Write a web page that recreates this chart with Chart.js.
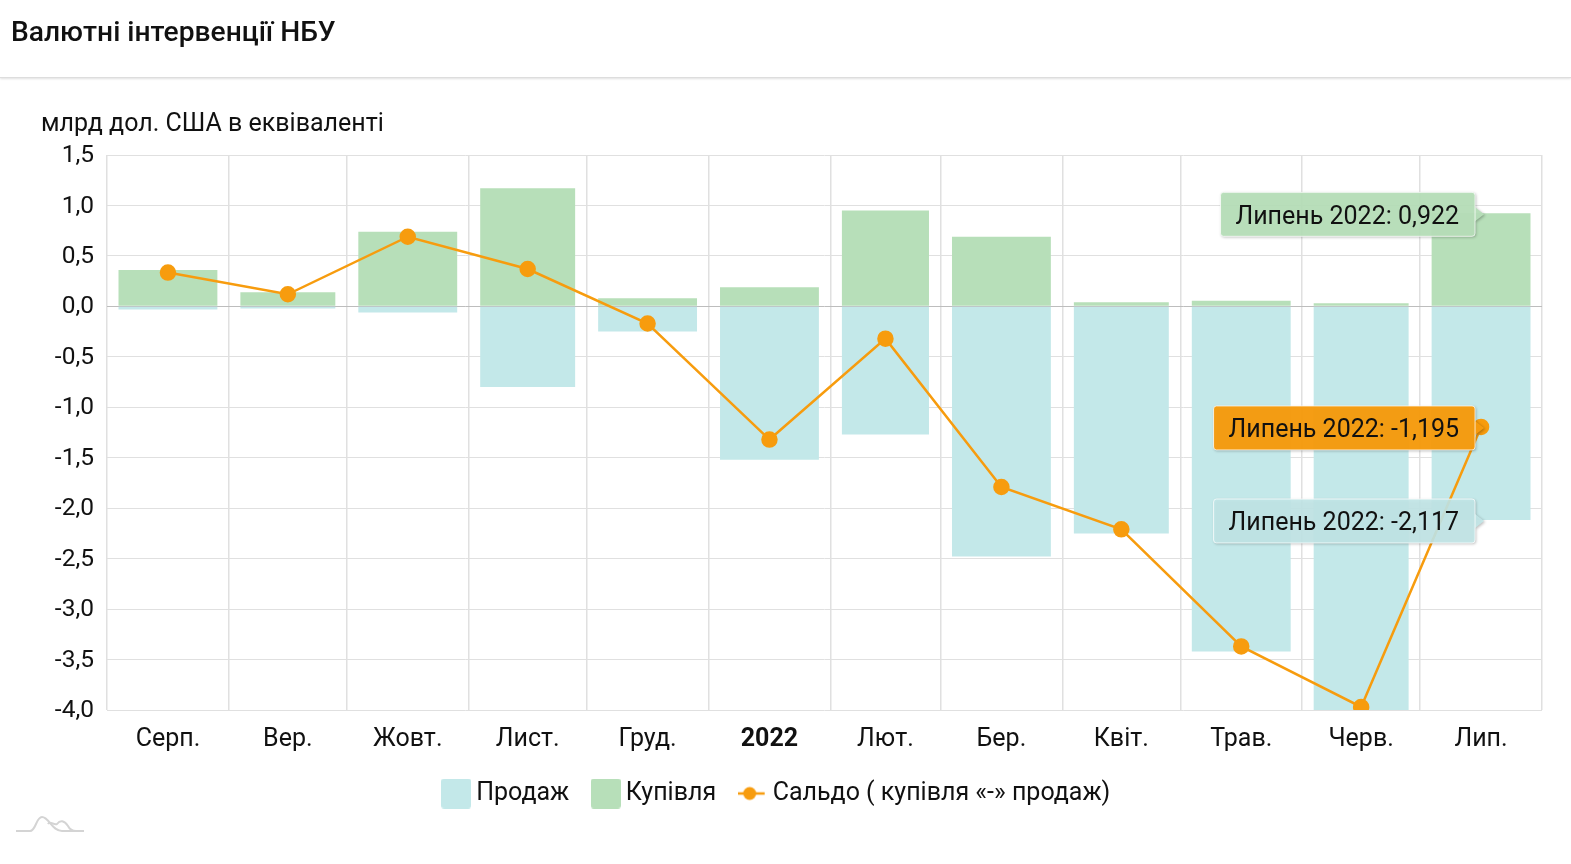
<!DOCTYPE html>
<html lang="uk">
<head>
<meta charset="utf-8">
<title>Валютні інтервенції НБУ</title>
<script src="https://cdn.jsdelivr.net/npm/chart.js@4"></script>
<style>
  html, body { margin: 0; padding: 0; width: 1571px; height: 864px; overflow: hidden; background: #fff; font-family: Roboto, sans-serif; color: #111; }
  #header { position: absolute; left: 0; top: 0; width: 100%; height: 77px; border-bottom: 1px solid #ddd; box-shadow: 0 1px 2px rgba(0,0,0,.12); }
  #header h1 { margin: 0; position: absolute; left: 11px; top: 16px; font-size: 28.2px; line-height: 32px; font-weight: 500; }
  #unit { position: absolute; left: 41px; top: 108px; font-size: 25px; line-height: 30px; }
  #chart { position: absolute; left: 0; top: 0; }
  #logo { position: absolute; left: 16px; top: 812px; }
</style>
</head>
<body>
<canvas id="chart" width="1571" height="864"></canvas>
<div id="header"><h1>Валютні інтервенції НБУ</h1></div>
<div id="unit">млрд дол. США в еквіваленті</div>
<svg id="logo" width="70" height="22" viewBox="0 0 70 22" fill="none" stroke="#d4d4d4" stroke-width="2">
  <path d="M0 19 H14 C20 19 20 5 26 5 C33 5 36 19 46 19 H68"/>
  <path d="M32 12 C34 8 38 14 41 12 C44 8 48 8 52 14 C54 18 56 19 60 19"/>
</svg>

<script>
const monthLabels = ['Серп.', 'Вер.', 'Жовт.', 'Лист.', 'Груд.', '2022', 'Лют.', 'Бер.', 'Квіт.', 'Трав.', 'Черв.', 'Лип.'];
const monthDays = [31, 30, 31, 30, 31, 31, 28, 31, 30, 31, 30, 31];
const salesValues = [-0.03, -0.02, -0.06, -0.80, -0.25, -1.52, -1.27, -2.48, -2.25, -3.42, -4.00, -2.117];
const purchaseValues = [0.36, 0.14, 0.74, 1.17, 0.08, 0.19, 0.95, 0.69, 0.04, 0.055, 0.03, 0.922];
const balanceValues = [0.335, 0.12, 0.69, 0.37, -0.17, -1.32, -0.32, -1.79, -2.21, -3.37, -3.97, -1.195];
const yTicks = [1.5, 1, 0.5, 0, -0.5, -1, -1.5, -2, -2.5, -3, -3.5, -4];

const COLOR_SALE = '#c3e8e9';
const COLOR_BUY = '#b7dfb9';
const COLOR_LINE = '#f79c0e';
const COLOR_GRID = '#e0e0e0';
const FONT = 'Roboto, sans-serif';

// month edges and middles, counted in days from the start of the axis
const monthEdges = [0];
monthDays.forEach(d => monthEdges.push(monthEdges[monthEdges.length - 1] + d));
const monthMids = monthDays.map((d, i) => monthEdges[i] + d / 2);

const fmt = v => String(v).replace('.', ',');
const toPoints = values => values.map((y, i) => ({ x: monthMids[i], y }));

function swatch(color) {
  const c = document.createElement('canvas');
  c.width = 30; c.height = 30;
  const g = c.getContext('2d');
  g.fillStyle = color;
  g.beginPath();
  g.roundRect(0, 0, 30, 30, 3);
  g.fill();
  return c;
}

function lineMarker(color) {
  const c = document.createElement('canvas');
  c.width = 30; c.height = 30;
  const g = c.getContext('2d');
  g.strokeStyle = color;
  g.fillStyle = color;
  g.lineWidth = 2.5;
  g.beginPath();
  g.moveTo(0, 15); g.lineTo(27, 15);
  g.stroke();
  g.beginPath();
  g.arc(12, 15, 6.5, 0, Math.PI * 2);
  g.fill();
  return c;
}

// bars follow the real month length, so each one gets its own width
const monthBars = {
  id: 'monthBars',
  afterDatasetsUpdate(chart) {
    const x = chart.scales.x;
    chart.getSortedVisibleDatasetMetas().forEach(meta => {
      if (meta.type !== 'bar') return;
      meta.data.forEach((bar, i) => {
        bar.width = x.getPixelForValue(monthEdges[i + 1]) - x.getPixelForValue(monthEdges[i]) - 23;
      });
    });
  }
};

// the three pinned labels for the last month
const pinnedLabels = {
  id: 'pinnedLabels',
  afterDatasetsDraw(chart) {
    const ctx = chart.ctx;
    const last = monthLabels.length - 1;
    const tipX = chart.scales.x.getPixelForValue(monthMids[last]) + 3;
    const items = [
      { value: purchaseValues[last], fill: 'rgba(183,223,185,.95)' },
      { value: balanceValues[last], fill: 'rgba(247,156,14,.97)' },
      { value: salesValues[last], fill: 'rgba(195,232,233,.9)' }
    ];
    ctx.save();
    ctx.font = '25px ' + FONT;
    items.forEach(item => {
      const text = 'Липень 2022: ' + fmt(item.value);
      const w = ctx.measureText(text).width + 31;
      const y = chart.scales.y.getPixelForValue(item.value) + 1;
      const right = tipX - 9;
      const left = right - w;
      ctx.save();
      ctx.shadowColor = 'rgba(0,0,0,.3)';
      ctx.shadowBlur = 3;
      ctx.shadowOffsetX = 1;
      ctx.shadowOffsetY = 1;
      ctx.beginPath();
      ctx.roundRect(left, y - 22, w, 44, 3);
      ctx.moveTo(right, y - 7);
      ctx.lineTo(tipX, y);
      ctx.lineTo(right, y + 7);
      ctx.closePath();
      ctx.fillStyle = item.fill;
      ctx.fill();
      ctx.restore();
      ctx.strokeStyle = 'rgba(255,255,255,.75)';
      ctx.lineWidth = 1;
      ctx.beginPath();
      ctx.roundRect(left, y - 22, w, 44, 3);
      ctx.stroke();
      ctx.fillStyle = '#111';
      ctx.textAlign = 'left';
      ctx.textBaseline = 'middle';
      ctx.fillText(text, left + 15, y + 3);
    });
    ctx.restore();
  }
};

new Chart(document.getElementById('chart'), {
  data: {
    datasets: [
      { type: 'bar', label: 'Продаж', data: toPoints(salesValues), backgroundColor: COLOR_SALE, stack: 'flow', order: 2 },
      { type: 'bar', label: 'Купівля', data: toPoints(purchaseValues), backgroundColor: COLOR_BUY, stack: 'flow', order: 2 },
      {
        type: 'line', label: 'Сальдо ( купівля «-» продаж)', data: toPoints(balanceValues),
        borderColor: COLOR_LINE, backgroundColor: COLOR_LINE, borderWidth: 2.5,
        pointRadius: 7, pointHoverRadius: 7, tension: 0, order: 1, clip: 0
      }
    ]
  },
  options: {
    responsive: false,
    animation: false,
    events: [],
    layout: { padding: { left: 17, right: 29, top: 155, bottom: 48 } },
    font: { family: FONT },
    scales: {
      x: {
        type: 'linear',
        min: 0,
        max: monthEdges[monthEdges.length - 1],
        offset: false,
        stacked: true,
        afterBuildTicks(scale) {
          const ticks = [];
          monthEdges.forEach((edge, i) => {
            ticks.push({ value: edge });
            if (i < monthMids.length) ticks.push({ value: monthMids[i] });
          });
          scale.ticks = ticks;
        },
        afterFit(scale) { scale.height = 42; },
        grid: {
          offset: false,
          drawTicks: false,
          lineWidth: 1.5,
          color: ctx => (ctx.tick && monthEdges.includes(ctx.tick.value) ? COLOR_GRID : 'transparent')
        },
        border: { display: false },
        ticks: {
          autoSkip: false,
          maxRotation: 0,
          padding: 15,
          color: '#111',
          font: ctx => ({
            family: FONT,
            size: 25,
            weight: ctx.tick && monthLabels[monthMids.indexOf(ctx.tick.value)] === '2022' ? 'bold' : 'normal'
          }),
          callback: value => (monthMids.includes(value) ? monthLabels[monthMids.indexOf(value)] : '')
        }
      },
      y: {
        min: -4,
        max: 1.5,
        stacked: true,
        afterBuildTicks(scale) { scale.ticks = yTicks.map(value => ({ value })); },
        afterFit(scale) { scale.width = 90; },
        grid: {
          drawTicks: false,
          color: ctx => (ctx.tick && ctx.tick.value === 0 ? '#bdbdbd' : COLOR_GRID)
        },
        border: { display: false },
        ticks: {
          padding: 13,
          labelOffset: 1,
          color: '#111',
          font: { family: FONT, size: 24.5 },
          callback: value => Number(value).toFixed(1).replace('.', ',')
        }
      }
    },
    plugins: {
      title: { display: false },
      tooltip: { enabled: false },
      legend: {
        position: 'bottom',
        align: 'center',
        labels: {
          usePointStyle: true,
          pointStyleWidth: 15,
          boxHeight: 24,
          padding: 29,
          color: '#111',
          font: { family: FONT, size: 25 },
          generateLabels: chart => chart.data.datasets.map((ds, i) => ({
            text: ds.label,
            datasetIndex: i,
            fontColor: '#111',
            lineWidth: 0,
            pointStyle: ds.type === 'line' ? lineMarker(COLOR_LINE) : swatch(ds.backgroundColor)
          }))
        }
      }
    }
  },
  plugins: [monthBars, pinnedLabels]
});
</script>
</body>
</html>
